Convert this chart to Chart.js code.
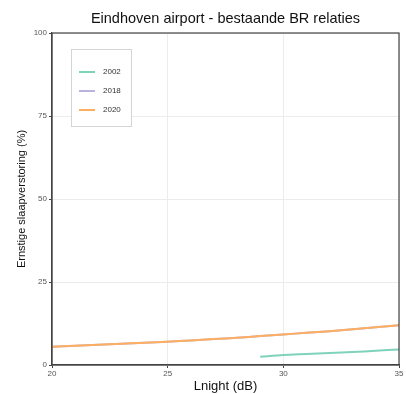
<!DOCTYPE html>
<html>
<head>
<meta charset="utf-8">
<script src="https://cdn.jsdelivr.net/npm/chart.js@4/dist/chart.umd.min.js"></script>
<style>
    html, body { margin: 0; padding: 0; background: #fff; }
    #wrap { width: 406px; height: 394px; }
</style>
</head>
<body>
<div id="wrap"><canvas id="myChart" width="406" height="394"></canvas></div>
<script>
// data
var lnight2002 = [29, 30, 31, 32, 33, 34, 35];
var values2002 = [2.5, 3.0, 3.3, 3.6, 3.9, 4.3, 4.7];
var lnight2018 = [20, 21, 22, 23, 24, 25, 26, 27, 28, 29, 30, 31, 32, 33, 34, 35];
var values2018 = [5.5, 5.8, 6.1, 6.4, 6.7, 7.0, 7.4, 7.8, 8.2, 8.7, 9.2, 9.7, 10.2, 10.8, 11.4, 12.0];
var lnight2020 = [20, 21, 22, 23, 24, 25, 26, 27, 28, 29, 30, 31, 32, 33, 34, 35];
var values2020 = [5.5, 5.8, 6.1, 6.4, 6.7, 7.0, 7.4, 7.8, 8.2, 8.7, 9.2, 9.7, 10.2, 10.8, 11.4, 12.0];
var seriesLabels = ["2002", "2018", "2020"];
var seriesColors = ["#7fd3bb", "#b9b2dc", "#fdae61"];
var xTicks = [20, 25, 30, 35];
var yTicks = [0, 25, 50, 75, 100];

function toPoints(xs, ys) {
    var pts = [];
    for (var i = 0; i < xs.length; i++) {
        pts.push({ x: xs[i], y: ys[i] });
    }
    return pts;
}

// draws the frame around the plot and the boxed legend inside it
var framePlugin = {
    id: 'frame',
    afterDatasetsDraw: function (chart) {
        var ctx = chart.ctx;
        var a = chart.chartArea;
        ctx.save();
        ctx.strokeStyle = '#444';
        ctx.lineWidth = 1.2;
        ctx.strokeRect(a.left, a.top, a.right - a.left, a.bottom - a.top);

        // legend
        var bx = a.left + 19, by = a.top + 16;
        ctx.strokeStyle = '#d4d4d4';
        ctx.lineWidth = 1;
        ctx.fillStyle = '#fff';
        ctx.fillRect(bx, by, 60, 77);
        ctx.strokeRect(bx + 0.5, by + 0.5, 60, 77);
        ctx.font = '8px "Liberation Sans", Arial, sans-serif';
        ctx.textBaseline = 'middle';
        for (var i = 0; i < seriesLabels.length; i++) {
            var ly = by + 23 + i * 19;
            ctx.strokeStyle = seriesColors[i];
            ctx.lineWidth = 2;
            ctx.beginPath();
            ctx.moveTo(bx + 8, ly);
            ctx.lineTo(bx + 24, ly);
            ctx.stroke();
            ctx.fillStyle = '#333';
            ctx.fillText(seriesLabels[i], bx + 32, ly);
        }
        ctx.restore();
    }
};

function renderChart() {
    var ctx = document.getElementById("myChart").getContext('2d');
    var datasets = [];
    var xs = [lnight2002, lnight2018, lnight2020];
    var ys = [values2002, values2018, values2020];
    var drawOrder = [2, 1, 0]; // 2020 ends up on top
    for (var i = 0; i < seriesLabels.length; i++) {
        datasets.push({
            label: seriesLabels[i],
            data: toPoints(xs[i], ys[i]),
            borderColor: seriesColors[i],
            backgroundColor: seriesColors[i],
            borderWidth: 2,
            pointRadius: 0,
            tension: 0.3,
            fill: false,
            order: drawOrder[i]
        });
    }
    var tickFont = { family: '"Liberation Sans", Arial, sans-serif', size: 8 };
    new Chart(ctx, {
        type: 'line',
        data: { datasets: datasets },
        plugins: [framePlugin],
        options: {
            responsive: false,
            animation: false,
            layout: { padding: { left: 0, right: 7, top: 0, bottom: 0 } },
            plugins: {
                legend: { display: false },
                tooltip: { enabled: false },
                title: {
                    display: true,
                    fullSize: false,
                    text: 'Eindhoven airport - bestaande BR relaties',
                    color: '#111',
                    font: { family: '"Liberation Sans", Arial, sans-serif', size: 14.5, weight: 'normal' },
                    padding: { top: 10, bottom: 5.6 }
                }
            },
            scales: {
                x: {
                    type: 'linear',
                    min: 20,
                    max: 35,
                    afterBuildTicks: function (s) {
                        s.ticks = xTicks.map(function (v) { return { value: v }; });
                    },
                    afterFit: function (s) { s.height = 29; },
                    grid: { color: '#ececec', tickColor: '#444', tickLength: 3 },
                    border: { color: '#444', width: 1.2 },
                    ticks: { color: '#555', font: tickFont, padding: 1, maxRotation: 0 },
                    title: { display: true, text: 'Lnight (dB)', color: '#111', font: { family: '"Liberation Sans", Arial, sans-serif', size: 13 }, padding: 0 }
                },
                y: {
                    min: 0,
                    max: 100,
                    afterBuildTicks: function (s) {
                        s.ticks = yTicks.map(function (v) { return { value: v }; });
                    },
                    afterFit: function (s) { s.width = 52; },
                    grid: { color: '#ececec', tickColor: '#444', tickLength: 3 },
                    border: { color: '#444', width: 1.2 },
                    ticks: { color: '#555', font: tickFont, padding: 2 },
                    title: { display: true, text: 'Ernstige slaapverstoring (%)', color: '#111', font: { family: '"Liberation Sans", Arial, sans-serif', size: 11 }, padding: { top: 15, bottom: 0 } }
                }
            }
        }
    });
}

renderChart();
</script>
</body>
</html>
